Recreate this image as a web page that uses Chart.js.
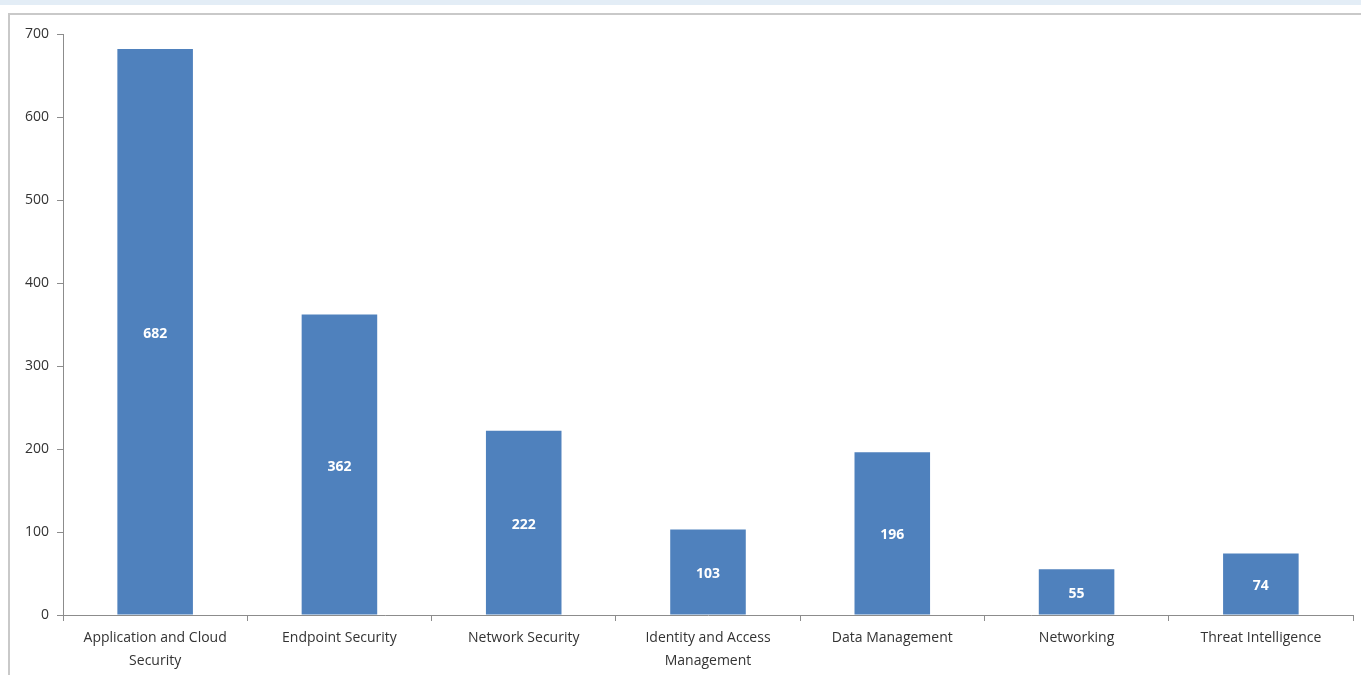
<!DOCTYPE html>
<html>
<head>
<meta charset="utf-8">
<script src="https://cdn.jsdelivr.net/npm/chart.js@4"></script>
<style>
  html, body { margin: 0; padding: 0; background: #fff; }
  body { width: 1361px; height: 675px; position: relative; overflow: hidden; }
  #strip { position: absolute; left: 0; top: 0; width: 1361px; height: 5px; background: #e3edf6; }
  #frame { position: absolute; left: 8px; top: 13px; width: 1400px; height: 700px;
           border-left: 2px solid #c9c9c9; border-top: 2px solid #c9c9c9; }
  #wrap { position: absolute; left: 0; top: 0; width: 1361px; height: 675px; }
</style>
</head>
<body>
<div id="strip"></div>
<div id="frame"></div>
<div id="wrap"><canvas id="chart" width="1361" height="675"></canvas></div>
<script>
/* ─── DATA ────────────────────────────────────────────────── */
const categories = [
  ['Application and Cloud', 'Security'],
  'Endpoint Security',
  'Network Security',
  ['Identity and Access', 'Management'],
  'Data Management',
  'Networking',
  'Threat Intelligence',
];
const counts = [682, 362, 222, 103, 196, 55, 74];
const yTicks = [0, 100, 200, 300, 400, 500, 600, 700];

/* ─── STYLE ───────────────────────────────────────────────── */
const barColor  = '#4f81bd';
const axisColor = '#8c8c8c';
const textColor = '#333333';
const fontFam   = '"Open Sans", "Noto Sans", sans-serif';

/* value label in the middle of each bar */
const centerLabels = {
  id: 'centerLabels',
  afterDatasetsDraw(chart) {
    const c = chart.ctx;
    const meta = chart.getDatasetMeta(0);
    c.save();
    c.fillStyle = '#ffffff';
    c.font = 'bold 14px ' + fontFam;
    c.textAlign = 'center';
    c.textBaseline = 'middle';
    meta.data.forEach((bar, i) => {
      const mid = (bar.y + bar.base) / 2;
      c.fillText(String(counts[i]), bar.x, mid + 2);
    });
    c.restore();
  }
};

const ctx = document.getElementById('chart').getContext('2d');
new Chart(ctx, {
  type: 'bar',
  data: {
    labels: categories,
    datasets: [{
      data: counts,
      backgroundColor: barColor,
      borderWidth: 0,
      barPercentage: 0.41,
      categoryPercentage: 1.0,
    }],
  },
  options: {
    responsive: false,
    animation: false,
    layout: { padding: { top: 34, right: 8, left: 0, bottom: 0 } },
    plugins: { legend: { display: false }, tooltip: { enabled: false } },
    scales: {
      x: {
        offset: true,
        grid: { offset: true, drawOnChartArea: false, drawTicks: true, tickLength: 6, color: axisColor },
        border: { color: axisColor, width: 1 },
        ticks: {
          color: textColor,
          font: { family: fontFam, size: 14, lineHeight: 1.6 },
          padding: 6,
          maxRotation: 0,
          autoSkip: false,
        },
        afterFit: s => { s.height = 60; },
      },
      y: {
        min: 0,
        max: 700,
        afterBuildTicks: s => { s.ticks = yTicks.map(v => ({ value: v })); },
        grid: { drawOnChartArea: false, drawTicks: true, tickLength: 6, color: axisColor },
        border: { color: axisColor, width: 1 },
        ticks: {
          color: textColor,
          font: { family: fontFam, size: 14 },
          padding: 8,
        },
        afterFit: s => { s.width = 63; },
      },
    },
  },
  plugins: [centerLabels],
});
</script>
</body>
</html>
